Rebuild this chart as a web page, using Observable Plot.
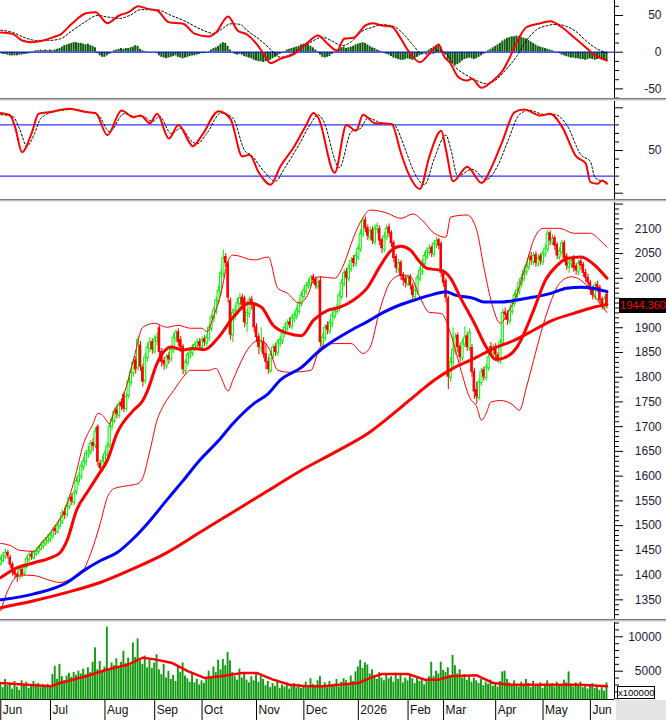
<!DOCTYPE html>
<html><head><meta charset="utf-8">
<script src="https://cdn.jsdelivr.net/npm/d3@7"></script>
<script src="https://cdn.jsdelivr.net/npm/@observablehq/plot@0.6"></script>
<style>
body{margin:0;background:#fff;}
#root{position:relative;width:666px;height:720px;overflow:hidden;font-family:"Liberation Sans",Arial,sans-serif;background:#fff;}
.sep{position:absolute;left:0;width:666px;height:3px;background:linear-gradient(#7a7a7a 0 1px,#bdbdbd 1px 2px,#e6e6e6 2px 3px);}
</style></head><body><div id="root"></div>
<script>
// ---------- DATA ----------
const monthIdx = [0,21,44,65,85,108,128,151,172,187,209,229,249];
const monthLabels = ["Jun","Jul","Aug","Sep","Oct","Nov","Dec","2026","Feb","Mar","Apr","May","Jun"];

const opens = [1422,1428,1436,1446,1436,1422,1408,1402,1396,1412,1402,1416,1430,1442,1434,1442,1447,1452,1458,1462,1468,1472,1478,1494,1486,1498,1508,1528,1522,1538,1558,1546,1568,1588,1598,1618,1628,1644,1648,1668,1662,1700,1626,1612,1628,1642,1662,1700,1712,1734,1722,1748,1765,1736,1762,1788,1808,1835,1818,1865,1820,1792,1838,1858,1872,1852,1872,1900,1852,1834,1822,1844,1836,1854,1878,1892,1876,1862,1812,1828,1842,1848,1858,1862,1872,1860,1878,1868,1878,1898,1918,1932,1952,1972,2008,2044,2030,1955,1884,1928,1932,1948,1962,1960,1908,1928,1958,1945,1902,1882,1858,1872,1848,1832,1812,1842,1862,1848,1868,1872,1888,1898,1912,1902,1918,1922,1932,1948,1962,1972,1984,1988,2004,1998,1982,1995,1866,1878,1905,1892,1908,1922,1932,1938,1962,1988,2014,1998,2018,2040,2028,2042,2058,2088,2118,2102,2082,2098,2072,2098,2100,2078,2058,2082,2104,2092,2072,2044,2018,2032,2008,2000,1988,2004,1985,1962,1972,1998,2012,2028,2042,2052,2062,2048,2068,2078,2070,2010,1995,1960,1798,1828,1852,1885,1862,1838,1866,1884,1858,1860,1812,1775,1758,1788,1815,1798,1818,1862,1848,1862,1845,1832,1868,1932,1928,1912,1932,1948,1962,1972,1988,1998,2012,2022,2045,2032,2048,2028,2045,2032,2048,2058,2092,2072,2082,2068,2042,2052,2072,2045,2022,2028,2040,2025,2012,2035,2028,2012,2002,1992,1978,1962,1988,1982,1958,1940,1968];
const highs = [1436,1446,1452,1450,1440,1426,1412,1406,1416,1418,1420,1438,1446,1448,1450,1455,1460,1466,1470,1476,1482,1486,1496,1500,1506,1516,1532,1536,1546,1562,1564,1572,1598,1608,1628,1638,1652,1660,1672,1676,1698,1704,1632,1640,1652,1668,1708,1722,1738,1742,1752,1756,1770,1768,1798,1818,1840,1842,1882,1872,1826,1848,1868,1880,1878,1884,1890,1904,1858,1840,1846,1850,1862,1888,1896,1898,1882,1866,1836,1850,1858,1866,1872,1878,1878,1882,1884,1886,1906,1926,1942,1962,1984,2018,2057,2050,2034,1960,1938,1945,1960,1970,1968,1964,1938,1962,1964,1950,1908,1888,1900,1880,1868,1840,1852,1866,1868,1876,1882,1896,1908,1916,1920,1928,1932,1942,1956,1972,1982,1992,1998,2006,2008,2003,1998,2003,1888,1906,1912,1916,1932,1942,1948,1972,1998,2018,2020,2028,2042,2046,2052,2068,2098,2123,2124,2108,2104,2104,2108,2112,2106,2082,2092,2108,2110,2096,2076,2048,2038,2036,2012,2006,2008,2008,1990,1982,2006,2022,2038,2052,2062,2068,2066,2076,2082,2081,2074,2016,2000,1964,1840,1900,1888,1890,1868,1876,1902,1890,1898,1866,1818,1790,1796,1818,1820,1826,1846,1870,1866,1868,1850,1876,1938,1940,1934,1942,1958,1972,1982,1998,2008,2022,2032,2048,2052,2052,2054,2048,2050,2056,2068,2097,2096,2088,2086,2072,2062,2077,2076,2050,2037,2042,2046,2030,2036,2040,2032,2018,2008,1996,1984,1992,1994,1986,1962,1964,1976];
const lows = [1418,1424,1432,1432,1414,1398,1392,1385,1390,1394,1398,1412,1426,1430,1430,1438,1442,1448,1452,1458,1462,1466,1472,1480,1482,1492,1502,1512,1516,1532,1540,1540,1562,1580,1592,1610,1620,1636,1642,1650,1656,1620,1606,1608,1622,1636,1656,1692,1706,1716,1716,1732,1728,1730,1756,1780,1800,1806,1812,1812,1780,1786,1830,1850,1846,1846,1864,1842,1820,1814,1816,1826,1830,1848,1870,1862,1850,1805,1806,1822,1836,1842,1852,1856,1854,1854,1862,1862,1872,1892,1910,1926,1946,1966,2000,2022,1950,1875,1870,1915,1925,1940,1936,1900,1890,1920,1936,1890,1870,1845,1850,1838,1815,1806,1808,1836,1842,1842,1860,1866,1880,1892,1898,1896,1910,1916,1926,1942,1956,1966,1978,1982,1988,1978,1976,1862,1860,1872,1886,1886,1900,1916,1926,1932,1956,1982,1960,1992,2012,2022,2022,2036,2052,2082,2092,2076,2076,2068,2066,2090,2066,2050,2052,2076,2082,2062,2032,2010,2010,1996,1984,1980,1982,1976,1956,1955,1966,1992,2006,2022,2036,2046,2042,2042,2060,2058,2002,1982,1950,1775,1790,1820,1845,1850,1830,1832,1860,1852,1852,1800,1755,1745,1752,1782,1792,1792,1812,1842,1840,1836,1828,1826,1862,1915,1905,1906,1926,1942,1956,1966,1980,1992,2006,2016,2026,2026,2022,2022,2026,2026,2042,2052,2066,2066,2056,2038,2036,2046,2032,2016,2010,2020,2012,2006,2005,2016,2002,1992,1980,1966,1956,1956,1972,1948,1936,1934,1938];
const closes = [1430,1440,1445,1438,1420,1405,1400,1395,1410,1400,1415,1432,1440,1436,1445,1448,1455,1460,1465,1470,1475,1480,1490,1488,1500,1510,1525,1520,1540,1555,1548,1565,1590,1600,1620,1630,1645,1650,1665,1660,1690,1628,1615,1630,1645,1660,1700,1715,1730,1725,1745,1740,1735,1760,1790,1810,1830,1815,1875,1820,1790,1840,1860,1870,1855,1875,1880,1850,1830,1825,1840,1835,1855,1880,1890,1870,1860,1815,1830,1845,1850,1860,1865,1870,1862,1875,1870,1880,1900,1920,1935,1955,1975,2010,2040,2030,1960,1885,1930,1935,1950,1960,1945,1910,1930,1955,1945,1900,1880,1860,1870,1845,1830,1815,1845,1860,1850,1870,1875,1890,1900,1910,1905,1920,1925,1935,1950,1965,1975,1985,1990,2000,1995,1985,1990,1870,1880,1900,1895,1910,1925,1935,1940,1965,1990,2010,2000,2020,2035,2030,2045,2060,2090,2115,2100,2085,2095,2075,2100,2105,2075,2060,2085,2100,2090,2070,2040,2020,2030,2005,1995,1990,2000,1985,1965,1975,2000,2015,2030,2045,2055,2060,2050,2070,2075,2065,2010,1990,1960,1800,1830,1855,1880,1860,1840,1870,1880,1860,1890,1810,1770,1760,1790,1810,1800,1820,1840,1850,1860,1845,1835,1870,1930,1925,1915,1935,1950,1965,1975,1990,2000,2015,2025,2040,2035,2045,2030,2040,2035,2050,2060,2090,2075,2080,2065,2045,2055,2070,2040,2025,2030,2035,2020,2015,2030,2025,2010,2000,1990,1975,1965,1985,1980,1955,1942,1958,1944.36];
const volumes = [3300,2600,3800,2900,3100,2400,3500,2700,2200,3600,2900,3400,2500,3000,3500,2800,3200,2600,3000,2700,3100,2900,4500,5700,3800,6000,4200,3600,4300,4700,4100,4800,4400,5000,4600,5300,4500,5500,4800,6300,8400,5200,6400,5000,5600,11400,5200,6200,5800,6800,5600,6300,7900,6100,6900,5800,9100,7000,9700,6500,6000,7200,5500,6600,5400,6200,7400,5200,4500,6000,4000,5000,3800,4400,3500,5600,4800,6200,4300,3900,3400,4700,3300,3800,3000,3600,3200,3900,5000,4200,5600,4800,6600,5200,6700,5800,7700,6500,4800,4200,3700,5300,4000,4600,3700,3300,4200,3600,4800,3400,4200,3800,2900,3500,2600,3200,2800,3700,2500,3000,2700,3300,2400,2900,3200,2600,3100,2500,2800,3400,2600,3900,3100,2700,3600,4200,2900,3300,2600,3500,2800,3100,3800,2700,3400,3900,3600,2900,4300,3500,4900,5600,6600,5400,6200,5900,4600,5200,4400,3800,4800,4000,3600,4500,3900,4200,3400,4700,3800,4400,3300,4000,3600,4500,3900,3200,4100,3500,3800,3000,3500,4200,6300,4200,5000,4600,6300,5100,4800,5500,4400,7300,5800,4600,5200,4000,4500,3700,4200,3400,4000,3600,3200,3800,2900,3400,3100,3700,2800,3300,2700,3500,4900,5000,3800,3300,2900,3600,3100,2700,3400,2900,3800,3200,2600,3500,3000,2800,3300,2500,3100,3600,2900,3200,2700,3400,3000,3000,3700,3300,4900,3100,2700,3300,2900,3400,2600,3000,2400,2800,3200,2500,2900,2200,2600,2100,3300];
const macdHist = [-2,-3,-3,-4,-5,-5,-5,-5,-4,-4,-3,-3,-2,-1,1,2,2,3,2,3,2,3,2,3,4,5,7,9,10,11,12,13,13,12,12,11,10,11,9,8,6,-2,-5,-7,-7,-5,-3,-1,2,3,4,5,4,5,5,6,7,9,8,4,2,1,0.5,-1,-0.5,0.5,-2,-5,-7,-8,-9,-8,-7,-6,-5,-7,-8,-9,-8,-7,-6,-5,-5,-4,-3,-2,-2,-1,1,3,5,6,8,11,13,12,8,3,-1,-3,-4,-3,-4,-6,-7,-8,-9,-11,-12,-13,-13,-14,-13,-12,-11,-9,-7,-5,-3,-1,1,3,4,5,6,7,8,10,11,12,10,8,6,3,1,-4,-7,-8,-7,-6,-3,-1,1,4,6,7,5,6,7,8,10,11,12,13,12,10,8,6,5,3,2,1,-1,-3,-4,-6,-8,-9,-10,-11,-11,-10,-9,-10,-11,-9,-7,-5,-3,-1,1,3,5,7,9,11,6,1,-4,-10,-14,-16,-18,-17,-15,-12,-10,-9,-8,-9,-10,-9,-7,-5,-3,-1,2,4,6,8,10,12,15,17,19,20,21,21,22,21,20,19,18,16,14,12,10,8,7,6,5,4,3,2,1,-1,-2,-4,-5,-6,-7,-8,-8,-9,-9,-10,-10,-11,-10,-9,-10,-11,-10,-9,-10,-11,-12];

const ma20Pts = [[0,1395],[7,1415],[14,1425],[21,1435],[25,1445],[28,1470],[32,1531],[37,1571],[41,1601],[45,1632],[49,1686],[56,1733],[60,1753],[62,1773],[66,1828],[72,1861],[77,1855],[81,1858],[86,1856],[92,1881],[98,1920],[105,1950],[110,1942],[115,1905],[121,1889],[127,1884],[132,1915],[138,1935],[143,1941],[149,1956],[155,1982],[160,2023],[165,2057],[169,2065],[173,2057],[177,2033],[180,2020],[186,2016],[190,2000],[194,1962],[200,1909],[205,1861],[209,1836],[212,1838],[218,1861],[225,1935],[230,1996],[235,2026],[239,2040],[245,2043],[250,2030],[256,2000]];
const bbUpperPts = [[0,1464],[4,1460],[8,1450],[14,1448],[18,1470],[21,1486],[23,1500],[27,1531],[31,1591],[35,1666],[39,1706],[41,1727],[43,1723],[46,1706],[48,1733],[51,1753],[56,1834],[60,1901],[65,1909],[70,1901],[75,1905],[80,1899],[85,1899],[87,1892],[90,1925],[93,1970],[96,2035],[98,2047],[107,2037],[113,2043],[117,1980],[121,1970],[126,1950],[130,1970],[132,1996],[135,2003],[141,2000],[145,2030],[149,2083],[153,2123],[156,2138],[163,2132],[169,2121],[174,2130],[178,2117],[183,2091],[188,2083],[190,2124],[197,2128],[201,2097],[204,2023],[207,1956],[211,1909],[214,1929],[218,1969],[222,2030],[225,2077],[229,2101],[236,2101],[242,2091],[249,2091],[253,2077],[256,2063]];
const bbLowerPts = [[0,1328],[3,1369],[8,1400],[14,1399],[21,1389],[25,1385],[30,1393],[34,1403],[38,1444],[42,1504],[45,1557],[48,1575],[54,1581],[58,1585],[60,1597],[63,1652],[66,1713],[69,1745],[73,1773],[77,1800],[80,1814],[88,1814],[91,1818],[93,1800],[96,1772],[98,1794],[105,1861],[109,1875],[113,1861],[117,1814],[122,1810],[131,1814],[135,1861],[141,1868],[148,1868],[153,1848],[156,1861],[160,1935],[165,1996],[169,2006],[173,2003],[177,1962],[181,1931],[186,1929],[190,1888],[194,1820],[198,1759],[201,1740],[203,1713],[205,1727],[207,1750],[211,1753],[216,1745],[219,1733],[222,1780],[225,1834],[228,1888],[232,1949],[236,1990],[241,2003],[245,1996],[249,1976],[253,1949],[256,1931]];
const blueMaPts = [[0,1350],[14,1362],[28,1385],[35,1409],[42,1429],[49,1445],[56,1474],[63,1510],[70,1551],[77,1591],[84,1632],[92,1672],[98,1706],[107,1747],[113,1767],[118,1794],[127,1820],[134,1851],[141,1875],[148,1895],[155,1913],[162,1932],[169,1947],[176,1958],[183,1968],[188,1973],[192,1966],[200,1959],[204,1952],[211,1952],[218,1956],[225,1962],[232,1969],[239,1980],[245,1982],[250,1980],[256,1973]];
const ma200Pts = [[0,1334],[14,1348],[28,1365],[42,1385],[56,1413],[70,1445],[84,1486],[98,1527],[113,1571],[127,1612],[141,1648],[155,1686],[169,1739],[176,1767],[183,1794],[191,1818],[200,1838],[208,1858],[217,1875],[225,1895],[233,1915],[242,1929],[250,1941],[256,1947]];
const macdPts = [[0,27],[5,25],[9,16],[13,13.6],[18,16],[23,21.4],[25,23.7],[30,38.7],[36,53],[40,54.5],[45,39.5],[50,50],[54,54.5],[58,62.7],[62,59],[66,56.8],[71,40.9],[77,38.7],[82,25],[88,21.4],[91,27.2],[96,48.6],[100,29.6],[104,24.1],[108,11.4],[111,-2.2],[114,-15],[118,-9],[124,-2.2],[129,11.4],[134,22.8],[138,11.4],[142,2.3],[145,18.3],[149,19.6],[154,36.4],[157,39.5],[161,36.4],[165,35],[169,18.3],[172,2.3],[177,-13.6],[181,-2.2],[185,10],[187,-4.5],[190,-15.8],[193,-33],[197,-38.6],[199,-36.3],[203,-48.5],[207,-40.9],[212,-25],[215,-6.8],[219,20.4],[222,34],[227,38.7],[232,42.2],[237,34],[242,20.4],[247,6.8],[251,-4.5],[253,-7.6],[256,-11.3]];
const signalPts = [[0,30],[5,27],[10,20],[15,16],[20,16],[25,18],[30,29],[35,40],[41,50],[45,48],[50,46],[55,51],[59,58],[66,57.7],[72,50],[78,42],[84,32],[90,25.5],[94,33],[97,38.7],[101,38],[104,29.6],[109,18],[113,6.8],[118,-6.8],[121,-5],[125,2.3],[130,12],[136,20.4],[140,15],[144,9],[148,14],[152,27.2],[157,34],[161,37.6],[166,35],[170,25],[174,10],[178,-2.2],[182,-2],[185,2.3],[188,-2],[192,-20.4],[196,-30],[201,-38.6],[205,-43],[209,-38],[213,-25],[218,-5],[222,16],[226,30],[231,36.4],[235,38],[239,35],[243,28],[247,16],[251,6],[256,-1]];
const stochKPts = [[0,94],[4,91],[6,78],[9,48],[13,70],[16,93],[21,95],[29,99],[36,95],[40,94],[45,68],[51,97],[56,89],[59,91],[63,82],[66,93],[71,64],[75,80],[80,58],[81,55],[85,68],[92,96],[97,87],[102,43],[105,45],[109,24],[114,10],[118,31],[124,55],[129,80],[132,94],[134,89],[141,24],[146,80],[150,73],[153,92],[158,82],[165,81],[169,47],[172,24],[177,5],[181,43],[186,73],[188,51],[191,14],[197,31],[203,12],[208,35],[212,62],[217,95],[221,98],[228,91],[232,93],[237,78],[243,43],[247,35],[249,13],[252,11],[254,15],[256,11]];
const stochDPts = [[0,92],[5,90],[8,75],[11,55],[14,68],[17,88],[22,95],[30,98],[37,95],[41,92],[46,72],[52,93],[57,90],[60,90],[64,84],[67,90],[72,70],[76,76],[81,60],[83,58],[87,70],[93,94],[98,88],[103,50],[106,44],[111,26],[116,14],[120,30],[126,57],[131,82],[134,92],[136,86],[143,30],[148,72],[152,76],[155,88],[160,83],[166,80],[171,50],[174,28],[179,10],[183,40],[188,68],[190,52],[193,20],[199,28],[205,16],[210,33],[214,60],[219,92],[223,97],[230,92],[234,92],[239,80],[245,45],[249,37],[251,18],[256,13]];
const volMaPts = [[0,3280],[11,3040],[21,2800],[25,3280],[36,4260],[45,5240],[54,5980],[60,6960],[65,6720],[72,6230],[79,5000],[86,4020],[93,4260],[102,4750],[108,4750],[115,3770],[122,3040],[129,2800],[136,2800],[151,3280],[156,4020],[161,4600],[172,4600],[179,3770],[185,3770],[190,4260],[201,4400],[208,3280],[215,3040],[230,3040],[245,3040],[256,2800]];

const macdTickLabels = [-50, 0, 50];
const stochTickLabels = [50];
const priceTickLabels = [1350,1400,1450,1500,1550,1600,1650,1700,1750,1800,1850,1900,2000,2050,2100];
const volTickLabels = [5000, 10000];
const lastPriceText = "1944.360";
const volUnitText = "x100000";

// ---------- LAYOUT ----------
const xDomain = [-0.114, 259.18];
const days = closes.map((c, i) => ({i, o: opens[i], h: highs[i], l: lows[i], c, v: volumes[i], hist: macdHist[i]}));
const up = days.filter(d => d.c >= d.o), dn = days.filter(d => d.c < d.o);
const pts = arr => arr.map(([i, v]) => ({i, v}));
const RED = "#ff0000", GREEN = "#00ee00", BLUE = "#0000ff";
const root = document.getElementById("root");
const baseStyle = {fontFamily: '"Liberation Sans", Arial, sans-serif', fontSize: "12px", background: "transparent", overflow: "visible", color: "black"};
const plain = d => String(d);

function rightAxis(minor, major, labels) {
  return [
    Plot.axisY({ticks: minor, anchor: "right", tickSize: 4, tickFormat: () => "", label: null}),
    Plot.axisY({ticks: major, anchor: "right", tickSize: 8, tickFormat: () => "", label: null}),
    Plot.axisY({ticks: labels, anchor: "right", tickSize: 0, tickPadding: 47, textAnchor: "end", label: null, fill: "#1b1b3b", fontSize: 12, tickFormat: plain}),
    Plot.ruleX([xDomain[1]], {stroke: "black"})
  ];
}
function addPanel(top, height, yDomain, marks, marginBottom = 0) {
  const svg = Plot.plot({
    width: 666, height, marginLeft: 0, marginRight: 52, marginTop: 0, marginBottom,
    x: {domain: xDomain, axis: null},
    y: {domain: yDomain, axis: null},
    style: baseStyle, marks
  });
  svg.style.position = "absolute"; svg.style.left = "0px"; svg.style.top = top + "px";
  root.appendChild(svg);
  return svg;
}
const line = (arr, o) => Plot.line(pts(arr), {x: "i", y: "v", curve: "monotone-x", ...o});

// MACD panel
addPanel(0, 98, [-63.08, 70.44], [
  Plot.rect(days, {x1: d => d.i - 0.42, x2: d => d.i + 0.42, y1: 0, y2: "hist", fill: "#0e5c0e"}),
  Plot.ruleY([0], {stroke: BLUE}),
  line(signalPts, {stroke: "black", strokeWidth: 1, strokeDasharray: "2,2"}),
  line(macdPts, {stroke: RED, strokeWidth: 2}),
  ...rightAxis([-62.5,-37.5,-25,-12.5,12.5,25,37.5,62.5], [-50,0,50], macdTickLabels)
]);

// Stochastic panel
addPanel(101, 98, [-7.38, 107.4], [
  Plot.ruleY([20, 80], {stroke: BLUE}),
  line(stochDPts, {stroke: "black", strokeWidth: 1, strokeDasharray: "2,2"}),
  line(stochKPts, {stroke: RED, strokeWidth: 2}),
  ...rightAxis([10,20,30,40,60,70,80,90], [0,50,100], stochTickLabels)
]);

// Price panel
const priceMinor = d3.range(1320, 2151, 10).filter(v => v % 50 !== 0);
const priceMajor = d3.range(1350, 2151, 50);
const priceChart = addPanel(202, 417, [1310.2, 2153.2], [
  Plot.ruleX(up, {x: "i", y1: "l", y2: "h", stroke: GREEN, strokeWidth: 1}),
  Plot.ruleX(dn, {x: "i", y1: "l", y2: "h", stroke: RED, strokeWidth: 1}),
  Plot.rect(up, {x1: d => d.i - 0.45, x2: d => d.i + 0.45, y1: "o", y2: "c", fill: "white", stroke: GREEN, strokeWidth: 1}),
  Plot.rect(dn, {x1: d => d.i - 0.55, x2: d => d.i + 0.55, y1: "o", y2: "c", fill: RED}),
  line(bbUpperPts, {stroke: RED, strokeWidth: 1}),
  line(bbLowerPts, {stroke: RED, strokeWidth: 1}),
  line(ma200Pts, {stroke: RED, strokeWidth: 3}),
  line(blueMaPts, {stroke: BLUE, strokeWidth: 3}),
  line(ma20Pts, {stroke: RED, strokeWidth: 3}),
  ...rightAxis(priceMinor, priceMajor, priceTickLabels)
]);

// Volume panel
const volDomain = [886, 12078];
addPanel(622, 98, volDomain, [
  Plot.rect(days, {x1: d => d.i - 0.4, x2: d => d.i + 0.4, y1: volDomain[0], y2: "v", fill: "#109a10"}),
  Plot.line(pts(volMaPts), {x: "i", y: "v", stroke: RED, strokeWidth: 2.5}),
  Plot.ruleY([volDomain[0]], {stroke: "black"}),
  Plot.axisX({ticks: monthIdx, anchor: "bottom", tickSize: 21, tickFormat: () => "", label: null}),
  Plot.axisX({ticks: monthIdx, anchor: "bottom", tickSize: 0, tickPadding: 6, textAnchor: "start", dx: 2, label: null,
    tickFormat: d => monthLabels[monthIdx.indexOf(d)], fontSize: 12, fill: "#111"}),
  ...rightAxis(d3.range(1000, 12001, 1000).filter(v => v % 5000 !== 0), [5000, 10000], volTickLabels)
], 21);

// separators and annotation boxes
[98, 199, 619].forEach(t => { const s = document.createElement("div"); s.className = "sep"; s.style.top = t + "px"; root.appendChild(s); });
const grayBox = document.createElement("div");
Object.assign(grayBox.style, {position: "absolute", left: "616px", top: "700px", width: "50px", height: "20px", background: "#e4e4e4"});
root.appendChild(grayBox);

const yLast = 202 + priceChart.scale("y").apply(closes[closes.length - 1]);
const priceLbl = document.createElement("div");
priceLbl.textContent = lastPriceText;
Object.assign(priceLbl.style, {position: "absolute", left: "619px", top: (yLast - 7.5) + "px", width: "47px", height: "15px", background: "#000", color: RED, font: "11px 'Liberation Sans', Arial, sans-serif", lineHeight: "15px", textAlign: "right", whiteSpace: "nowrap", overflow: "hidden"});
root.appendChild(priceLbl);

const unitLbl = document.createElement("div");
unitLbl.textContent = volUnitText;
Object.assign(unitLbl.style, {position: "absolute", left: "617px", top: "686px", width: "36px", height: "11px", background: "#fff", border: "1px solid #000", color: "#000", font: "9.5px 'Liberation Sans', Arial, sans-serif", lineHeight: "11px", textAlign: "center", whiteSpace: "nowrap", overflow: "hidden"});
root.appendChild(unitLbl);
</script></body></html>
